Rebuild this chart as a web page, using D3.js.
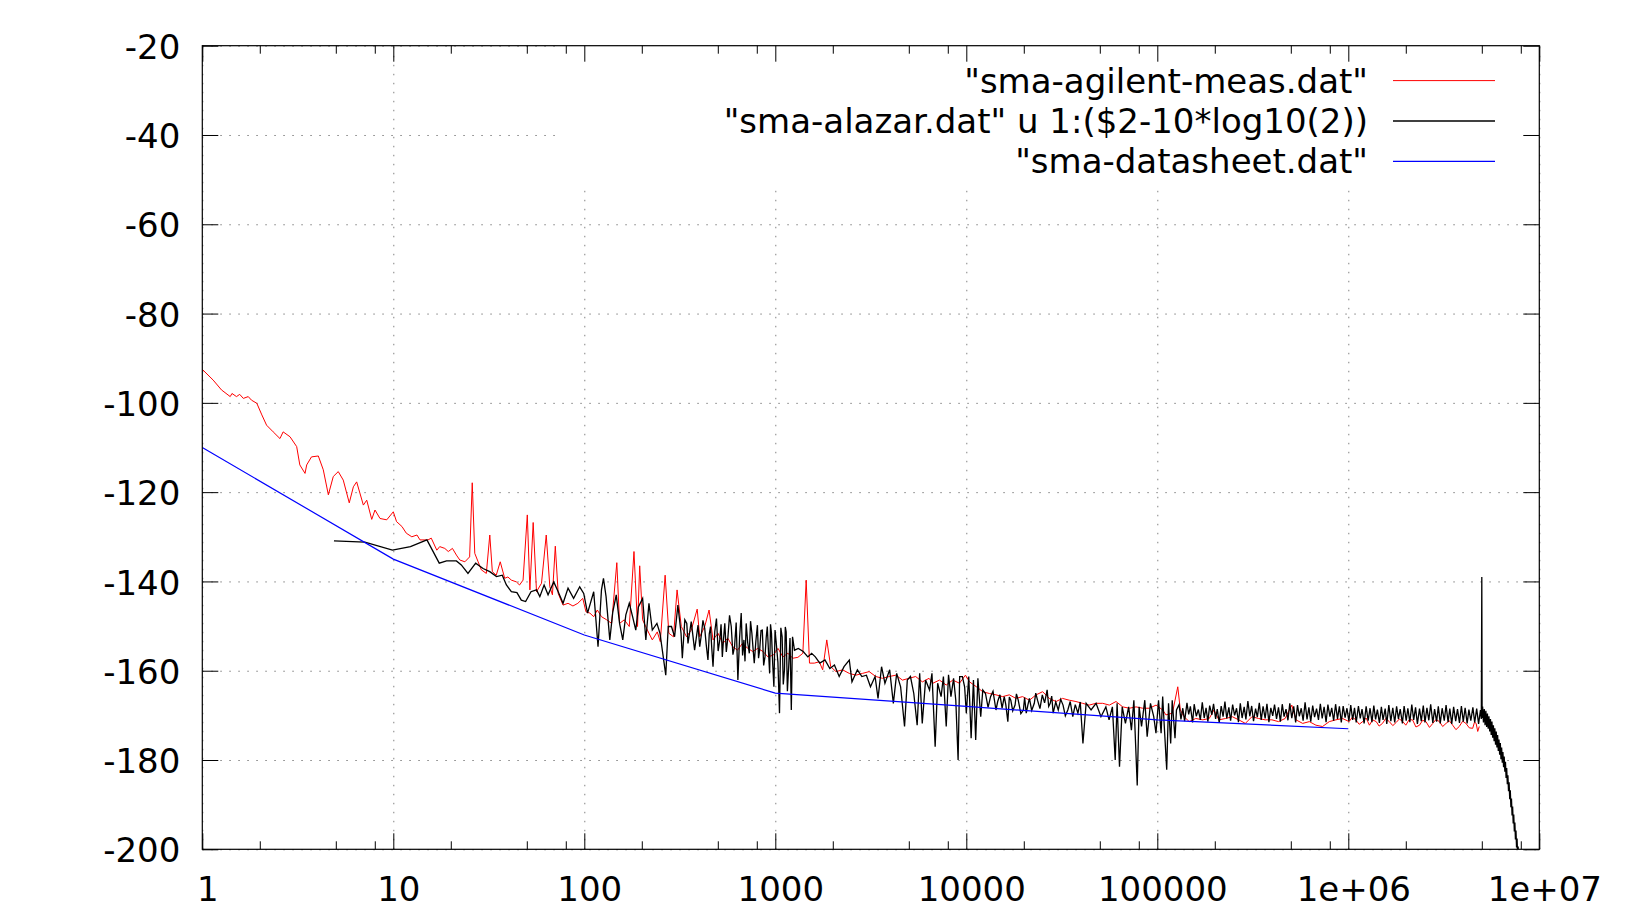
<!DOCTYPE html>
<html>
<head>
<meta charset="utf-8">
<script src="https://cdn.jsdelivr.net/npm/d3@7"></script>
<style>
  body { margin: 0; background: #fff; }
  svg { display: block; font-family: "DejaVu Sans", sans-serif; }
</style>
</head>
<body>
<div class="container"></div>
<script>
// values: [frequency Hz, dB]
var agilent = [[1.0,-92.5],[1.14,-94.9],[1.26,-97.1],[1.40,-98.6],[1.43,-97.9],[1.51,-98.6],[1.57,-98.1],[1.64,-99.0],[1.74,-98.6],[1.81,-99.4],[1.93,-100.1],[2.05,-102.7],[2.17,-105.0],[2.35,-106.5],[2.55,-108.0],[2.65,-106.5],[2.88,-107.6],[3.12,-109.8],[3.24,-113.9],[3.45,-115.8],[3.52,-113.9],[3.73,-112.1],[4.05,-111.9],[4.30,-115.0],[4.57,-120.6],[4.85,-116.5],[5.15,-115.4],[5.47,-117.3],[5.88,-122.4],[6.18,-118.8],[6.43,-117.7],[6.97,-122.9],[7.26,-121.8],[7.71,-126.1],[8.02,-124.0],[8.52,-125.9],[9.24,-126.2],[10.0,-124.4],[10.4,-126.6],[11.1,-127.7],[11.7,-129.2],[12.5,-130.0],[13.3,-129.6],[13.8,-130.7],[15.2,-130.7],[15.8,-130.3],[16.9,-133.0],[17.5,-132.2],[18.6,-132.6],[19.4,-133.3],[20.4,-132.6],[21.4,-134.1],[22.3,-135.2],[23.7,-135.6],[25.1,-134.5],[25.9,-117.9],[26.7,-133.7],[27.8,-135.6],[28.9,-137.4],[30.7,-138.2],[32.0,-129.6],[33.0,-137.8],[34.6,-138.6],[36.3,-135.6],[38.3,-139.3],[39.8,-139.0],[41.5,-139.7],[44.1,-140.1],[45.8,-140.8],[47.8,-139.7],[50.3,-125.1],[51.9,-141.9],[54.0,-126.8],[56.2,-142.3],[59.7,-140.4],[63.2,-129.6],[66.0,-141.2],[68.1,-143.0],[70.5,-132.1],[73.0,-142.7],[77.4,-145.3],[82.2,-144.9],[87.2,-145.5],[92.5,-144.9],[98.2,-143.8],[102,-146.8],[107,-147.1],[112,-147.9],[117,-146.4],[123,-147.9],[131,-148.6],[139,-149.4],[148,-135.8],[153,-149.4],[162,-148.6],[172,-150.1],[182,-133.3],[190,-150.1],[195,-136.5],[202,-148.6],[214,-150.9],[227,-153.1],[241,-151.3],[250,-153.5],[265,-138.6],[277,-151.6],[293,-152.4],[306,-141.9],[322,-150.1],[343,-152.4],[363,-150.9],[390,-146.2],[402,-152.4],[427,-150.1],[450,-146.4],[472,-153.1],[501,-151.6],[531,-153.9],[564,-152.7],[598,-154.6],[634,-155.4],[672,-153.9],[719,-155.0],[762,-155.7],[809,-155.0],[863,-155.7],[915,-156.9],[977,-156.5],[1033,-155.0],[1096,-156.9],[1164,-156.1],[1236,-157.2],[1313,-157.0],[1394,-156.1],[1451,-139.7],[1510,-158.3],[1600,-158.3],[1700,-158.0],[1770,-159.8],[1860,-153.1],[1950,-159.1],[2080,-160.2],[2250,-159.8],[2440,-160.6],[2640,-161.0],[2860,-160.6],[3100,-160.2],[3360,-161.3],[3640,-161.7],[3950,-161.3],[4280,-161.0],[4630,-162.1],[5020,-161.7],[5430,-161.3],[5890,-162.5],[6380,-161.7],[6680,-162.8],[7240,-162.1],[7850,-163.2],[8500,-162.1],[9210,-162.8],[9900,-161.0],[10400,-162.5],[11300,-163.6],[12200,-164.7],[13200,-165.1],[14300,-165.4],[15500,-165.8],[16800,-165.4],[18200,-166.2],[19700,-165.8],[21400,-166.6],[23200,-165.4],[25100,-164.7],[27200,-166.2],[29500,-166.9],[31900,-166.2],[34600,-166.6],[37500,-166.9],[40600,-167.3],[44000,-167.7],[47700,-167.3],[51800,-167.3],[56100,-167.7],[60800,-166.9],[65900,-168.1],[71400,-168.4],[77400,-168.1],[83900,-168.4],[90900,-168.4],[98500,-167.7],[106800,-168.8],[111000,-169.9],[120000,-169.5],[128000,-163.6],[132000,-168.8],[138000,-170.3],[147000,-171.4],[159000,-170.7],[173000,-171.0],[187000,-170.7],[198000,-168.8],[210000,-171.0],[228000,-170.7],[247000,-170.3],[267000,-171.0],[289000,-171.8],[313000,-170.3],[339000,-170.7],[367000,-171.0],[398000,-171.0],[431000,-171.4],[467000,-170.7],[506000,-167.7],[532000,-171.0],[577000,-171.8],[625000,-171.4],[677000,-172.2],[733000,-172.5],[795000,-171.4],[861000,-171.0],[933000,-170.7],
  [1010000,-171.4],[1050000,-170.4],[1095000,-171.0],[1140000,-172.0],[1190000,-171.4],[1240000,-170.6],[1290000,-172.2],[1340000,-171.0],[1400000,-171.4],[1450000,-172.4],[1510000,-171.8],[1570000,-170.7],[1640000,-171.4],[1710000,-172.3],[1780000,-171.6],[1850000,-170.8],[1930000,-171.4],[2000000,-172.2],[2080000,-171.0],[2170000,-171.0],[2260000,-172.6],[2360000,-172.2],[2450000,-171.1],[2550000,-171.4],[2660000,-172.7],[2770000,-171.8],[2880000,-170.9],[3000000,-171.4],[3120000,-172.5],[3250000,-171.8],[3380000,-171.2],[3520000,-172.2],[3660000,-173.2],[3810000,-172.5],[3970000,-171.3],[4130000,-171.8],[4300000,-172.8],[4480000,-172.9],[4580000,-171.5],[4670000,-171.8],[4760000,-173.6],[4850000,-172.5]];

var alazar = [[4.89,-130.9],[7.1,-131.2],[9.9,-133.0],[12.3,-132.2],[15.0,-130.7],[17.4,-135.9],[19.0,-135.4],[21.4,-135.4],[22.7,-136.3],[24.6,-138.2],[27.0,-135.9],[29.5,-137.1],[32.0,-137.8],[34.7,-138.9],[37.2,-138.6],[39.1,-140.8],[41.5,-142.3],[44.4,-142.5],[46.8,-144.2],[49.3,-144.5],[52.6,-142.3],[56.2,-141.9],[58.5,-143.4],[61.6,-140.8],[64.6,-143.0],[69.2,-140.1],[73.0,-142.3],[77.4,-144.9],[82.2,-141.5],[87.9,-143.8],[94.6,-141.2],[99.3,-142.7],[104,-147.1],[112,-142.3],[118,-154.6],[123,-141.9],[126,-139.3],[130,-143.4],[136,-153.1],[141,-146.8],[147,-143.0],[153,-149.4],[159,-153.1],[165,-147.5],[172,-144.9],[179,-147.9],[186,-150.9],[192,-145.7],[202,-143.8],[210,-153.1],[218,-144.9],[227,-150.9],[240,-149.4],[249,-151.6],[267,-161.0],[275,-150.1],[286,-150.1],[297,-152.4],[309,-145.3],[321,-151.6],[326,-157.2],[336,-148.6],[344,-149.4],[349,-153.9],[363,-149.0],[378,-155.4],
  [394,-149.8],[402,-154.6],[410,-152.0],[418,-148.7],[427,-150.5],[435,-154.2],[444,-157.6],[451,-151.8],[458,-150.1],[465,-155.0],[472,-159.1],[482,-151.2],[492,-148.3],[502,-155.6],[512,-153.1],[520,-149.6],[528,-156.9],[536,-152.8],[544,-149.4],[554,-155.8],[565,-152.4],[576,-147.6],[588,-150.1],[600,-156.4],[612,-154.6],[624,-149.2],[637,-162.1],[650,-152.7],[663,-147.1],[674,-156.6],[685,-153.1],[694,-157.9],[704,-149.4],[717,-153.7],[731,-156.1],[742,-148.9],[754,-151.6],[765,-155.1],[776,-158.3],[791,-153.4],[806,-149.8],[817,-157.2],[828,-155.4],[842,-151.0],[855,-150.9],[869,-158.8],[883,-156.9],[896,-152.6],[908,-150.1],[921,-155.7],[934,-160.6],[944,-149.6],[955,-151.6],[969,-158.4],[983,-163.6],[997,-150.9],[1012,-153.9],[1032,-158.1],[1052,-169.5],[1069,-150.4],[1086,-152.4],[1101,-163.1],[1117,-159.8],[1128,-150.2],[1140,-151.3],[1157,-164.6],[1175,-159.1],[1194,-152.7],[1213,-168.8],[1231,-152.4],
  [1260,-155.4],[1320,-155.0],[1400,-155.7],[1480,-156.9],[1550,-156.1],[1620,-156.9],[1710,-158.3],[1820,-157.6],[1930,-159.5],[2040,-158.7],[2160,-161.3],[2290,-159.1],[2440,-157.6],[2520,-162.5],[2690,-159.8],[2840,-161.3],[3000,-161.0],[3150,-163.6],[3330,-161.3],[3450,-166.2],[3600,-159.1],[3750,-162.8],[3970,-159.8],[4150,-167.3],[4320,-160.6],[4530,-163.6],[4750,-172.5],[4910,-162.1],[5100,-161.3],[5310,-165.1],[5530,-172.2],[5700,-160.6],[5880,-171.8],[6120,-162.1],[6420,-164.3],[6610,-160.6],[6870,-177.0],[7080,-162.8],[7380,-165.8],[7590,-161.3],[7850,-172.5],[8070,-160.9],[8310,-165.8],[8580,-161.7],[8810,-166.6],[9060,-180.0],[9230,-161.3],[9540,-161.3],[9800,-163.6],[10000,-169.5],[10300,-161.3],[10600,-175.1],[10900,-162.1],[11200,-175.5],[11500,-161.7],[11900,-170.3],[12200,-164.3],
  [12600,-165.1],[13000,-168.2],[13400,-165.8],[13800,-164.6],[14300,-168.8],[14600,-166.9],[15000,-165.4],[15400,-168.4],[15800,-165.8],[16100,-167.6],[16500,-171.4],[16800,-165.9],[17100,-166.6],[17500,-169.0],[18000,-167.7],[18300,-165.2],[18700,-166.6],[19300,-169.6],[19900,-168.8],[20200,-166.0],[20600,-169.5],[21000,-167.7],[21400,-166.2],[22000,-168.9],[22700,-167.3],[23100,-165.0],[23600,-166.6],[24300,-168.5],[25000,-165.4],[25700,-167.2],[26500,-164.3],[27000,-168.0],[27500,-167.3],[28000,-165.7],[28500,-169.5],[29400,-167.0],[30300,-168.8],[31200,-166.4],[32100,-167.7],[33000,-170.1],[34000,-168.8],[35000,-166.9],[36100,-170.3],[37200,-167.6],[38400,-169.5],[39500,-167.0],[40800,-176.3],
  [42400,-167.3],[45000,-168.8],[47800,-167.3],[50700,-170.3],[53800,-168.1],[55900,-171.0],[58200,-168.1],[60200,-180.0],[61600,-167.3],[63400,-181.5],[65500,-168.1],[68100,-171.8],[70800,-168.1],[73200,-173.3],[75400,-166.6],[78500,-185.7],[80300,-168.1],[82700,-172.5],[86000,-166.6],[88500,-174.8],[92100,-167.3],[95800,-170.3],[98400,-174.0],[101500,-166.6],[104700,-174.0],[106700,-165.8],[108800,-172.5],[112000,-182.2],[114500,-167.3],[117500,-176.3],[119700,-166.6],[123800,-175.1],[126000,-168.8],
  [1.30e5,-167.6],[1.33e5,-170.9],[1.36e5,-168.4],[1.39e5,-171.3],[1.43e5,-167.2],[1.46e5,-169.8],[1.49e5,-168.0],[1.53e5,-171.6],[1.56e5,-167.5],[1.60e5,-170.2],[1.64e5,-168.7],[1.68e5,-171.0],[1.72e5,-167.1],[1.76e5,-170.6],[1.80e5,-168.3],[1.84e5,-171.4],[1.88e5,-167.8],[1.93e5,-169.9],[1.97e5,-167.4],[2.02e5,-170.8],[2.06e5,-168.6],[2.11e5,-171.7],[2.16e5,-167.9],[2.21e5,-170.3],[2.26e5,-166.9],[2.31e5,-170.7],[2.37e5,-168.2],[2.42e5,-171.2],[2.48e5,-167.6],[2.54e5,-170.0],[2.60e5,-168.4],[2.66e5,-171.5],[2.72e5,-167.3],[2.78e5,-170.6],[2.85e5,-168.1],[2.91e5,-170.9],[2.98e5,-166.8],[3.05e5,-170.2],[3.12e5,-167.9],[3.19e5,-171.3],[3.27e5,-168.5],[3.34e5,-170.4],[3.42e5,-167.2],[3.50e5,-171.0],[3.58e5,-168.0],[3.67e5,-170.7],[3.75e5,-167.4],[3.84e5,-171.5],[3.93e5,-168.3],[4.02e5,-170.1],[4.11e5,-167.6],[4.21e5,-170.8],[4.31e5,-168.2],[4.41e5,-171.4],[4.51e5,-167.5],[4.61e5,-170.3],[4.72e5,-168.6],[4.83e5,-171.1],[4.94e5,-167.3],[5.06e5,-170.6],[5.18e5,-168.0],[5.30e5,-171.6],[5.42e5,-167.7],[5.54e5,-170.2],[5.67e5,-168.4],[5.80e5,-171.2],[5.94e5,-167.1],[6.08e5,-170.9],[6.22e5,-168.2],[6.36e5,-171.4],[6.51e5,-167.8],[6.66e5,-170.4],[6.82e5,-168.5],[6.98e5,-171.0],[7.14e5,-167.4],[7.30e5,-170.7],[7.47e5,-168.1],[7.65e5,-171.5],[7.82e5,-167.6],[8.01e5,-170.3],[8.19e5,-168.3],[8.38e5,-171.2],[8.58e5,-167.5],[8.78e5,-170.8],[8.98e5,-168.0],[9.19e5,-171.6],[9.40e5,-167.9],[9.62e5,-170.5],[9.84e5,-168.4],
  [1.007e6,-171.3],[1.03e6,-167.7],[1.054e6,-171.0],[1.078e6,-168.3],[1.10e6,-171.6],[1.13e6,-167.9],[1.155e6,-170.7],[1.18e6,-168.6],[1.21e6,-171.8],[1.24e6,-168.0],[1.27e6,-171.2],[1.30e6,-168.4],[1.33e6,-171.5],[1.36e6,-167.8],[1.39e6,-170.9],[1.42e6,-168.7],[1.455e6,-171.7],[1.49e6,-168.1],[1.52e6,-171.0],[1.56e6,-168.5],[1.59e6,-171.9],[1.63e6,-167.7],[1.67e6,-171.3],[1.71e6,-168.3],[1.75e6,-171.6],[1.79e6,-168.0],[1.83e6,-170.8],[1.87e6,-168.6],[1.92e6,-171.8],[1.96e6,-167.9],[2.01e6,-171.2],[2.05e6,-168.4],[2.10e6,-171.5],[2.15e6,-167.6],[2.20e6,-171.0],[2.25e6,-168.2],[2.30e6,-171.9],[2.36e6,-168.5],[2.41e6,-171.3],[2.47e6,-167.8],[2.52e6,-171.6],[2.58e6,-168.3],[2.64e6,-171.1],[2.70e6,-167.5],[2.77e6,-171.7],[2.83e6,-168.6],[2.90e6,-171.4],[2.96e6,-168.0],[3.03e6,-171.8],[3.10e6,-168.4],[3.18e6,-171.2],[3.25e6,-167.7],[3.33e6,-171.5],[3.40e6,-168.5],[3.48e6,-171.9],[3.56e6,-168.1],[3.65e6,-171.3],[3.73e6,-168.6],[3.82e6,-171.7],[3.91e6,-167.9],[4.00e6,-171.4],[4.09e6,-168.3],[4.19e6,-171.8],[4.28e6,-168.7],[4.38e6,-171.2],[4.49e6,-168.2],[4.59e6,-171.6],[4.70e6,-168.5],[4.81e6,-171.9],[4.92e6,-168.8],[4.97e6,-170.8],[5.00e6,-139.0],[5.02e6,-170.6],
  [5.05e6,-168.0],[5.10e6,-171.6],[5.15e6,-168.6],[5.20e6,-172.2],[5.25e6,-169.0],[5.30e6,-172.6],[5.35e6,-169.6],[5.40e6,-173.0],[5.45e6,-170.2],[5.50e6,-173.6],[5.55e6,-170.8],[5.60e6,-174.4],[5.65e6,-171.4],[5.70e6,-175.0],[5.75e6,-172.2],[5.80e6,-175.8],[5.85e6,-172.9],[5.90e6,-176.6],[5.95e6,-173.6],[6.00e6,-177.2],[6.05e6,-174.4],[6.10e6,-178.0],[6.15e6,-175.4],[6.20e6,-178.8],[6.25e6,-176.2],[6.30e6,-179.8],[6.35e6,-177.2],[6.40e6,-180.6],[6.45e6,-178.2],[6.50e6,-181.6],[6.55e6,-179.2],[6.60e6,-182.6],[6.65e6,-180.4],[6.70e6,-184.0],[6.75e6,-181.8],[6.80e6,-185.4],[6.85e6,-183.4],[6.90e6,-187.0],[6.95e6,-185.0],[7.00e6,-188.8],[7.05e6,-186.8],[7.10e6,-190.6],[7.15e6,-188.6],[7.20e6,-192.4],[7.25e6,-190.4],[7.30e6,-194.2],[7.35e6,-192.2],[7.40e6,-196.0],[7.45e6,-194.0],[7.50e6,-197.8],[7.55e6,-195.8],[7.60e6,-199.6],[7.65e6,-197.6],[7.70e6,-201.4],[7.75e6,-199.4],[7.80e6,-203.0]];

var datasheetFreq = [1, 10, 100, 1000, 10000, 100000, 1000000];
var datasheetDb = [-110, -135, -152, -165, -168, -171, -173];

var xMajor = [1, 10, 100, 1000, 1e4, 1e5, 1e6, 1e7];
var xTickLabels = ["1", "10", "100", "1000", "10000", "100000", "1e+06", "1e+07"];
var xMinor = [2,5,8, 20,50,80, 200,500,800, 2e3,5e3,8e3, 2e4,5e4,8e4, 2e5,5e5,8e5, 2e6,5e6,8e6];
var yTicks = [-200, -180, -160, -140, -120, -100, -80, -60, -40, -20];

var seriesNames = ['"sma-agilent-meas.dat"', '"sma-alazar.dat" u 1:($2-10*log10(2))', '"sma-datasheet.dat"'];
var seriesColors = ["#ff0000", "#000000", "#0000ff"];

var W = 1642, H = 918;
var pLeft = 202.3, pRight = 1539.3, pTop = 45.7, pBottom = 849.3;

var svg = d3.select('.container').append('svg')
	.attr("width", W)
	.attr("height", H);
svg.append("rect").attr("width", W).attr("height", H).attr("fill", "#fff");

var x = d3.scaleLog().domain([1, 1e7]).range([pLeft, pRight]);
var y = d3.scaleLinear().domain([-200, -20]).range([pBottom, pTop]);

// dotted grid
var gridX = svg.append("g").attr("transform", "translate(0," + pBottom + ")")
	.call(d3.axisBottom(x).tickValues(xMajor).tickSize(-(pBottom - pTop)).tickFormat(""));
var gridY = svg.append("g").attr("transform", "translate(" + pLeft + ",0)")
	.call(d3.axisLeft(y).tickValues(yTicks).tickSize(-(pRight - pLeft)).tickFormat(""));
[gridX, gridY].forEach(function(g){
	g.select(".domain").remove();
	g.selectAll("line").attr("stroke", "#808080").attr("stroke-width", 1).attr("stroke-dasharray", "1.5,7.5");
});

// key box hides the grid behind it
svg.append("rect")
	.attr("x", 556).attr("y", pTop).attr("width", pRight - 556).attr("height", 184 - pTop)
	.attr("fill", "#fff");

svg.append("clipPath").attr("id", "plotclip")
	.append("rect").attr("x", pLeft).attr("y", pTop).attr("width", pRight - pLeft).attr("height", pBottom - pTop);

var line = d3.line().x(function(d){return x(d[0]);}).y(function(d){return y(d[1]);});
var datasheet = datasheetFreq.map(function(f, i){return [f, datasheetDb[i]];});
var series = [agilent, alazar, datasheet];
var widths = [1, 1.3, 1.2];

var plot = svg.append("g").attr("clip-path", "url(#plotclip)");
series.forEach(function(s, i){
	plot.append("path")
		.attr("d", line(s))
		.attr("fill", "none")
		.attr("stroke", seriesColors[i])
		.attr("stroke-width", widths[i])
		.attr("stroke-linejoin", "miter");
});

// key
var key = svg.append("g").attr("font-size", 34);
seriesNames.forEach(function(name, i){
	var cy = 80.6 + i * 40.4;
	key.append("text")
		.attr("x", 1368).attr("y", cy + 12)
		.attr("text-anchor", "end")
		.text(name);
	key.append("line")
		.attr("x1", 1393).attr("x2", 1495)
		.attr("y1", cy).attr("y2", cy)
		.attr("stroke", seriesColors[i]).attr("stroke-width", widths[i]);
});

// axes, ticks pointing inward
var fontSize = 34;
var axB = svg.append("g").attr("transform", "translate(0," + pBottom + ")")
	.call(d3.axisBottom(x).tickValues(xMajor).tickSizeInner(-16).tickSizeOuter(0).tickPadding(28)
		.tickFormat(function(d, i){return xTickLabels[i];}));
axB.selectAll("text").attr("dx", 5);
var axBm = svg.append("g").attr("transform", "translate(0," + pBottom + ")")
	.call(d3.axisBottom(x).tickValues(xMinor).tickSizeInner(-8).tickSizeOuter(0).tickFormat(""));
var axT = svg.append("g").attr("transform", "translate(0," + pTop + ")")
	.call(d3.axisTop(x).tickValues(xMajor).tickSizeInner(-16).tickSizeOuter(0).tickFormat(""));
var axTm = svg.append("g").attr("transform", "translate(0," + pTop + ")")
	.call(d3.axisTop(x).tickValues(xMinor).tickSizeInner(-8).tickSizeOuter(0).tickFormat(""));
var axL = svg.append("g").attr("transform", "translate(" + pLeft + ",0)")
	.call(d3.axisLeft(y).tickValues(yTicks).tickSizeInner(-16).tickSizeOuter(0).tickPadding(22)
		.tickFormat(function(d){return String(d);}));
axL.selectAll("text").attr("dy", "0.37em");
var axR = svg.append("g").attr("transform", "translate(" + pRight + ",0)")
	.call(d3.axisRight(y).tickValues(yTicks).tickSizeInner(-16).tickSizeOuter(0).tickFormat(""));

[axB, axBm, axT, axTm, axL, axR].forEach(function(g){
	g.select(".domain").remove();
	g.attr("font-family", null).attr("font-size", fontSize);
	g.selectAll("line").attr("stroke", "#000").attr("stroke-width", 1);
	g.selectAll("text").attr("fill", "#000");
});

// frame
svg.append("rect")
	.attr("x", pLeft).attr("y", pTop).attr("width", pRight - pLeft).attr("height", pBottom - pTop)
	.attr("fill", "none").attr("stroke", "#000").attr("stroke-width", 1.2);
</script>
</body>
</html>
